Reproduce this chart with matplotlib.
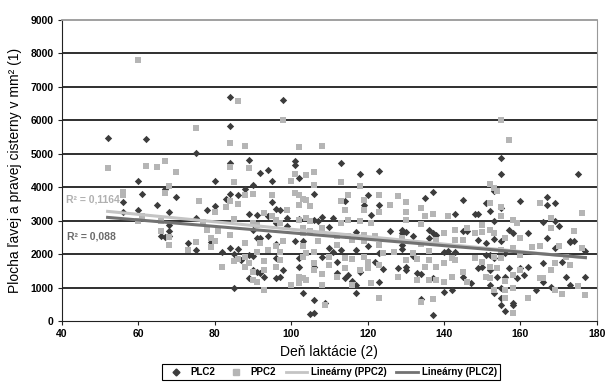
import matplotlib
matplotlib.use('Agg')
import matplotlib.pyplot as plt
from matplotlib.lines import Line2D

plt.rcParams['font.family'] = ['Liberation Sans', 'DejaVu Sans']

# PLC2 (day, area)
plc = [
    (52, 5480), (56, 3560), (56, 3260), (60, 4180), (60, 3310), (61, 3800), (62, 5450),
    (65, 3460), (66, 2530), (67, 3960), (67, 2510), (68, 3250), (68, 2880), (68, 2680),
    (68, 2550), (70, 3710), (73, 2330), (75, 5030), (75, 3080), (75, 2130), (78, 3310),
    (79, 2350), (80, 3430), (80, 4180), (82, 2080), (83, 3660), (84, 6710), (84, 5830),
    (84, 4730), (84, 3800), (84, 2180), (85, 2010), (85, 1000), (86, 3780), (86, 2160),
    (87, 1830), (88, 3960), (89, 4810), (89, 3210), (89, 1980), (89, 1280), (90, 4060),
    (90, 2730), (90, 1960), (90, 1530), (91, 3180), (91, 2480), (91, 1480), (92, 4430),
    (92, 2480), (92, 1430), (93, 1330), (94, 4520), (94, 3130), (94, 2530), (95, 4180),
    (95, 3560), (96, 3360), (96, 2930), (96, 2310), (96, 1880), (96, 1280), (97, 3310),
    (97, 1330), (98, 6620), (98, 1530), (99, 3080), (99, 2850), (101, 4780), (101, 4680),
    (101, 2380), (102, 3050), (102, 1880), (102, 1630), (102, 4290), (103, 850), (103, 2380),
    (105, 210), (106, 230), (106, 630), (106, 3810), (106, 3030), (106, 1630), (107, 2980),
    (108, 3110), (108, 1910), (109, 530), (110, 2810), (110, 2180), (111, 3080), (111, 2080),
    (112, 1780), (112, 1430), (113, 2130), (113, 4720), (114, 3580), (114, 1280), (115, 1380),
    (116, 1200), (117, 2670), (117, 2130), (117, 1080), (117, 850), (118, 4400), (118, 1480),
    (119, 3480), (120, 3760), (120, 2230), (121, 3160), (122, 1780), (123, 4480), (123, 3480),
    (123, 2030), (123, 1180), (124, 1550), (126, 2680), (128, 1580), (129, 2630), (129, 2280),
    (129, 2730), (129, 2160), (130, 2650), (130, 1610), (130, 1530), (132, 2550), (132, 1960),
    (133, 1430), (134, 1400), (134, 650), (135, 3680), (136, 2710), (136, 2480), (137, 3860),
    (137, 2630), (137, 1300), (137, 180), (138, 2580), (140, 2080), (140, 880), (141, 2100),
    (142, 930), (143, 3200), (143, 2080), (145, 3630), (145, 2680), (145, 1310), (146, 2680),
    (147, 1150), (148, 3210), (149, 3210), (149, 1580), (149, 2430), (150, 1630), (151, 3530),
    (151, 2330), (151, 1980), (152, 3280), (152, 1980), (152, 1530), (152, 1080), (153, 3880),
    (153, 2980), (153, 2450), (153, 1880), (153, 850), (154, 1330), (155, 4880), (155, 4400),
    (155, 3380), (155, 2400), (155, 980), (155, 680), (155, 480), (156, 310), (156, 2030),
    (156, 1330), (157, 2710), (157, 1580), (158, 480), (158, 550), (158, 2630), (159, 1280),
    (160, 1580), (160, 3600), (161, 1380), (162, 2630), (162, 1630), (164, 930), (166, 2950),
    (166, 1750), (166, 1180), (167, 3710), (167, 3480), (167, 2480), (168, 1030), (169, 3530),
    (169, 2980), (169, 2180), (170, 2830), (171, 1780), (172, 1330), (173, 2380), (173, 1080),
    (173, 2350), (174, 2380), (175, 4410), (177, 2110), (177, 1310),
]

# PPC2 (day, area)
ppc = [
    (52, 4580), (56, 3860), (56, 3780), (60, 7800), (60, 3000), (61, 3130), (62, 4650),
    (65, 4600), (66, 2980), (66, 2680), (67, 4800), (67, 3830), (68, 4030), (68, 2510),
    (68, 2280), (70, 4450), (73, 2130), (75, 5760), (75, 2350), (76, 3580), (77, 2950),
    (78, 2710), (79, 2480), (79, 2210), (80, 2380), (80, 3260), (81, 2680), (82, 1630),
    (83, 3410), (84, 5330), (84, 4600), (84, 3600), (84, 2580), (85, 4150), (85, 3050),
    (85, 1810), (86, 6580), (86, 3500), (86, 1860), (88, 5240), (88, 3780), (88, 2330),
    (88, 1910), (88, 1630), (89, 4570), (89, 1750), (90, 3810), (90, 2930), (90, 1480),
    (90, 1230), (91, 2880), (91, 2080), (91, 1180), (92, 2330), (93, 3230), (93, 1810),
    (93, 1530), (93, 930), (94, 2130), (95, 3130), (95, 3760), (96, 3030), (96, 2230),
    (96, 1630), (97, 2930), (97, 2080), (97, 1830), (98, 6000), (98, 2380), (99, 3310),
    (100, 4180), (100, 1080), (101, 4410), (101, 3830), (102, 5210), (102, 3480), (102, 3030),
    (102, 1330), (102, 1130), (102, 3780), (103, 3650), (103, 2630), (103, 2230), (103, 1930),
    (103, 1280), (103, 2780), (104, 4380), (104, 3630), (104, 3080), (104, 2030), (104, 1230),
    (105, 2980), (105, 3430), (105, 2680), (106, 4450), (106, 4080), (106, 2080), (106, 1530),
    (106, 1730), (107, 2380), (108, 5230), (108, 2780), (108, 1410), (108, 1080), (109, 480),
    (110, 1910), (110, 1680), (112, 2530), (112, 2280), (112, 1330), (113, 4160), (113, 3580),
    (113, 2930), (114, 3330), (114, 1880), (114, 1580), (115, 3780), (115, 3030), (115, 2530),
    (116, 2430), (116, 1850), (116, 1080), (118, 4050), (118, 2980), (118, 1530), (119, 3610),
    (119, 3330), (119, 2580), (119, 2380), (119, 1910), (120, 1780), (120, 1580), (121, 2930),
    (121, 1130), (122, 2530), (123, 3780), (123, 3250), (123, 2280), (123, 1680), (123, 700),
    (124, 2030), (126, 3480), (127, 2080), (128, 1330), (128, 3750), (130, 3550), (130, 3260),
    (130, 3030), (130, 1830), (129, 2480), (132, 2030), (133, 1850), (133, 1230), (134, 3380),
    (134, 2910), (134, 2310), (134, 580), (135, 3130), (135, 1630), (136, 2100), (136, 1830),
    (136, 1230), (137, 3200), (137, 650), (138, 2410), (138, 1630), (138, 1230), (140, 2630),
    (140, 1730), (140, 1180), (141, 3150), (142, 1880), (142, 1330), (143, 2730), (143, 2430),
    (143, 1830), (145, 2430), (145, 1480), (146, 2780), (146, 1180), (148, 2630), (148, 1880),
    (150, 2650), (150, 2880), (150, 1780), (151, 1330), (152, 4110), (152, 3530), (152, 2730),
    (152, 1630), (152, 1280), (153, 3980), (153, 2630), (153, 1910), (153, 930), (154, 1580),
    (154, 3880), (155, 3410), (155, 3130), (155, 2130), (155, 1880), (155, 6000), (156, 2480),
    (156, 1200), (156, 930), (156, 680), (157, 5400), (158, 3030), (158, 2180), (158, 1380),
    (158, 980), (158, 250), (159, 2930), (160, 2480), (160, 1980), (160, 1530), (162, 700),
    (163, 2210), (165, 3530), (165, 2230), (165, 1280), (166, 1280), (168, 3080), (168, 2780),
    (168, 1530), (169, 930), (169, 1730), (170, 2230), (171, 810), (172, 1930), (173, 1680),
    (174, 2680), (175, 1050), (176, 3230), (176, 2180), (177, 780),
]

# trend lines
trend_x = [52, 177]
trend_ppc = [3280, 1890]
trend_plc = [3100, 1900]

plc_x = [p[0] for p in plc]
plc_y = [p[1] for p in plc]
ppc_x = [p[0] for p in ppc]
ppc_y = [p[1] for p in ppc]

dark = '#3c3c3c'
light = '#b5b5b5'
line_light = '#c4c4c4'
line_dark = '#727272'

fig = plt.figure(figsize=(6.13, 3.85), dpi=100)
ax = fig.add_axes([0.1007, 0.166, 0.873, 0.782])
ax.set_xlim(40, 180)
ax.set_ylim(0, 9000)
ax.set_xticks(range(40, 181, 20))
ax.set_yticks(range(0, 9001, 1000))

# horizontal gridlines, one plot call per level
for level in range(1000, 9000, 1000):
    ax.plot([40, 180], [level, level], color='#161616', linewidth=1.25,
            solid_capstyle='butt', zorder=2)

ax.scatter(plc_x, plc_y, marker='D', s=14, color=dark, lw=0, zorder=3)
ax.scatter(ppc_x, ppc_y, marker='s', s=18, color=light, lw=0, zorder=3)
ax.plot(trend_x, trend_ppc, color=line_light, lw=2.2, zorder=4)
ax.plot(trend_x, trend_plc, color=line_dark, lw=2.2, zorder=4)

ax.text(41, 3630, 'R² = 0,1164', color='#b0b0b0', fontsize=7.5, fontweight='bold',
        va='center', ha='left', zorder=5)
ax.text(41.4, 2520, 'R² = 0,088', color='#6a6a6a', fontsize=7.5, fontweight='bold',
        va='center', ha='left', zorder=5)

ax.tick_params(labelsize=7.5, length=3, width=0.8, color='#222222', pad=3)
for lab in ax.get_xticklabels() + ax.get_yticklabels():
    lab.set_fontweight('bold')

ax.spines['left'].set_color('#222222')
ax.spines['bottom'].set_color('#222222')
ax.spines['top'].set_color('#999999')
ax.spines['right'].set_color('#999999')
ax.spines['top'].set_linewidth(1.3)

ax.set_xlabel('Deň laktácie (2)', fontsize=10, labelpad=4)
ax.set_ylabel('Plocha ľavej a pravej cisterny v mm² (1)', fontsize=10, labelpad=6)

handles = [
    Line2D([], [], marker='D', ls='none', color=dark, markersize=3.5),
    Line2D([], [], marker='s', ls='none', color=light, markersize=4),
    Line2D([], [], color=line_light, lw=2),
    Line2D([], [], color=line_dark, lw=2),
]
labels = ['PLC2', 'PPC2', 'Lineárny (PPC2)', 'Lineárny (PLC2)']
leg = fig.legend(handles, labels, loc='lower center', bbox_to_anchor=(0.54, 0.0), ncol=4,
                 fancybox=False, edgecolor='black', framealpha=1,
                 prop={'size': 7, 'weight': 'bold'}, handlelength=2.2,
                 handletextpad=0.4, columnspacing=1.0, borderpad=0.3)
leg.get_frame().set_linewidth(0.8)

fig.savefig('out.png', dpi=100)
